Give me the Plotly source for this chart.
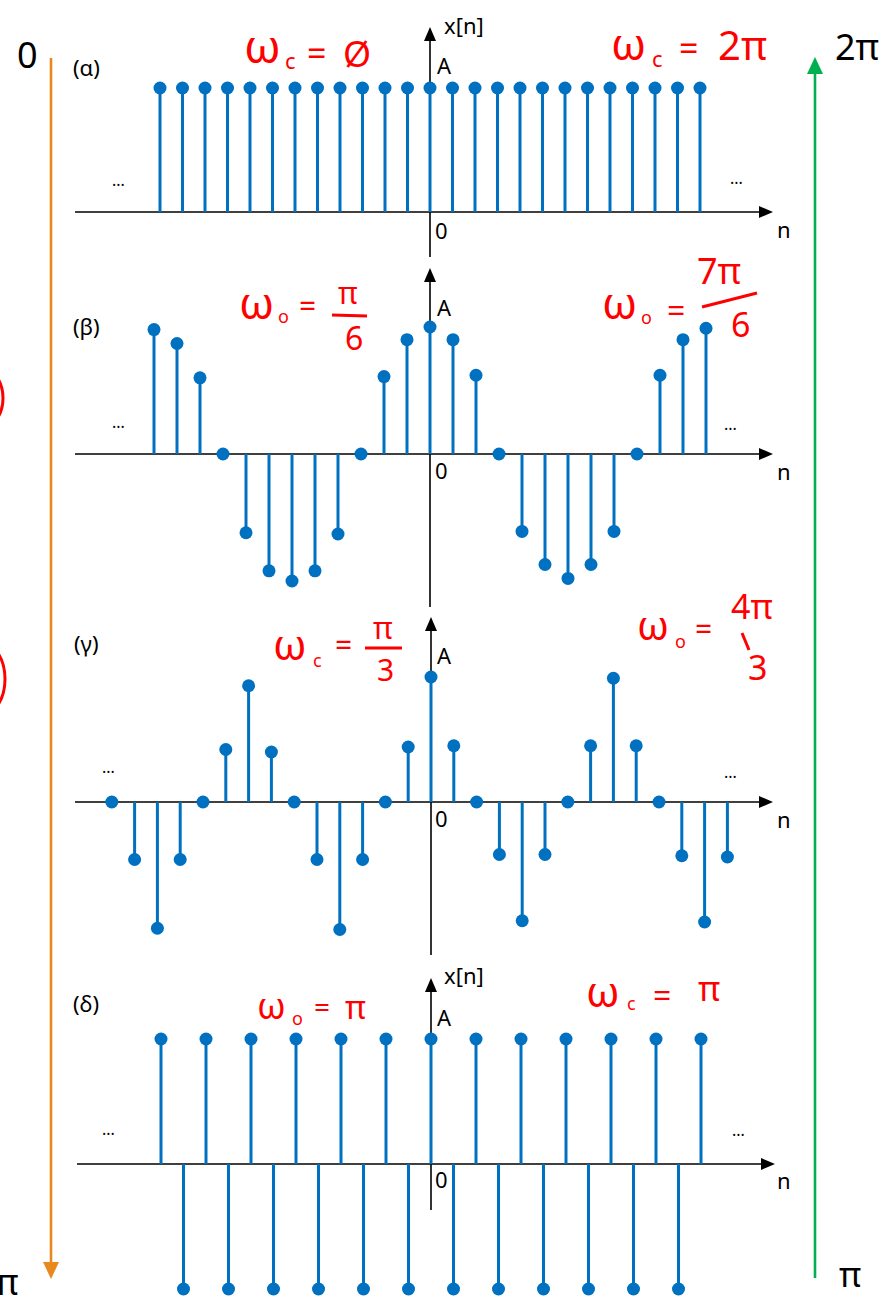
import plotly.graph_objects as go

W, H = 888, 1297

# ---------------- data (sample values in units of the amplitude A) ----------------
n_alpha = [-12, -11, -10, -9, -8, -7, -6, -5, -4, -3, -2, -1, 0,
           1, 2, 3, 4, 5, 6, 7, 8, 9, 10, 11, 12]
x_alpha = [1, 1, 1, 1, 1, 1, 1, 1, 1, 1, 1, 1, 1,
           1, 1, 1, 1, 1, 1, 1, 1, 1, 1, 1, 1]

n_beta = [-12, -11, -10, -9, -8, -7, -6, -5, -4, -3, -2, -1, 0,
          1, 2, 3, 4, 5, 6, 7, 8, 9, 10, 11, 12]
x_beta = [0.98, 0.87, 0.60, 0, -0.62, -0.92, -1.0, -0.92, -0.63, 0, 0.61, 0.90, 1.0,
          0.90, 0.62, 0, -0.61, -0.87, -0.98, -0.87, -0.61, 0, 0.62, 0.90, 0.99]

n_gamma = [-14, -13, -12, -11, -10, -9, -8, -7, -6, -5, -4, -3, -2, -1, 0,
           1, 2, 3, 4, 5, 6, 7, 8, 9, 10, 11, 12, 13]
x_gamma = [0, -0.46, -1.01, -0.46, 0, 0.42, 0.93, 0.40, 0, -0.46, -1.02, -0.46, 0, 0.44, 1.0,
           0.45, 0, -0.42, -0.95, -0.42, 0, 0.45, 0.99, 0.45, 0, -0.43, -0.96, -0.44]

n_delta = [-12, -11, -10, -9, -8, -7, -6, -5, -4, -3, -2, -1, 0,
           1, 2, 3, 4, 5, 6, 7, 8, 9, 10, 11, 12]
x_delta = [1, -1, 1, -1, 1, -1, 1, -1, 1, -1, 1, -1, 1,
           -1, 1, -1, 1, -1, 1, -1, 1, -1, 1, -1, 1]

panel_tags = ["(α)", "(β)", "(γ)", "(δ)"]
axis_labels = ["A", "0", "n", "x[n]", "..."]
side_labels = ["0", "π", "2π", "π"]

# ---------------- geometry (pixels) ----------------
STEM = "#0070C0"
panels = [
    dict(n=n_alpha, v=x_alpha, x0=430, s=22.5, y0=212, a=124, vtop=27, vbot=257, xl=75, xr=773,
         tag_y=67, A_y=65, zero_y=230, n_y=229, dl=(118, 180), dr=(736, 178), xn_y=25),
    dict(n=n_beta, v=x_beta, x0=430, s=23.0, y0=454, a=127, vtop=268, vbot=607, xl=75, xr=773,
         tag_y=326, A_y=307, zero_y=470, n_y=471, dl=(118, 422), dr=(730, 424), xn_y=None),
    dict(n=n_gamma, v=x_gamma, x0=431, s=22.8, y0=802, a=125, vtop=617, vbot=955, xl=75, xr=773,
         tag_y=643, A_y=655, zero_y=818, n_y=819, dl=(108, 767), dr=(730, 772), xn_y=None),
    dict(n=n_delta, v=x_delta, x0=431, s=22.5, y0=1164, a=125, vtop=978, vbot=1210, xl=77, xr=775,
         tag_y=1003, A_y=1017, zero_y=1179, n_y=1180, dl=(108, 1129), dr=(738, 1130), xn_y=975),
]


def PX(x):
    return x / W


def PY(y):
    return 1 - y / H


fig = go.Figure()
shapes = []
annotations = []
layout_axes = {}


def txt(text, x, y, size, color="black"):
    annotations.append(dict(text=text, x=PX(x), y=PY(y), xref="paper", yref="paper",
                            showarrow=False, xanchor="center", yanchor="middle",
                            font=dict(family="Noto Sans", size=size, color=color)))


for i, p in enumerate(panels):
    k = "" if i == 0 else str(i + 1)
    xa, ya = "x" + k, "y" + k
    layout_axes["xaxis" + k] = dict(domain=[0, 1], range=[(0 - p["x0"]) / p["s"], (W - p["x0"]) / p["s"]],
                                    visible=False, anchor=ya, fixedrange=True)
    layout_axes["yaxis" + k] = dict(domain=[0, 1], range=[(p["y0"] - H) / p["a"], p["y0"] / p["a"]],
                                    visible=False, anchor=xa, fixedrange=True)
    sx, sy = [], []
    for n, v in zip(p["n"], p["v"]):
        sx += [n, n, None]
        sy += [0, v, None]
    fig.add_trace(go.Scatter(x=sx, y=sy, mode="lines", xaxis=xa, yaxis=ya,
                             line=dict(color=STEM, width=3), hoverinfo="skip", showlegend=False))
    fig.add_trace(go.Scatter(x=p["n"], y=p["v"], mode="markers", xaxis=xa, yaxis=ya,
                             marker=dict(color=STEM, size=13, line=dict(width=0)),
                             showlegend=False, cliponaxis=False))

    # horizontal axis with arrow
    y0 = p["y0"]
    shapes.append(dict(type="line", xref="paper", yref="paper", layer="below",
                       x0=PX(p["xl"]), x1=PX(p["xr"] - 10), y0=PY(y0), y1=PY(y0),
                       line=dict(color="black", width=1.6)))
    shapes.append(dict(type="path", xref="paper", yref="paper", layer="below",
                       path=f"M {PX(p['xr'])} {PY(y0)} L {PX(p['xr'] - 14)} {PY(y0 - 6)} "
                            f"L {PX(p['xr'] - 14)} {PY(y0 + 6)} Z",
                       fillcolor="black", line=dict(width=0)))
    # vertical axis with arrow
    vx = p["x0"]
    shapes.append(dict(type="line", xref="paper", yref="paper", layer="below",
                       x0=PX(vx), x1=PX(vx), y0=PY(p["vtop"] + 10), y1=PY(p["vbot"]),
                       line=dict(color="black", width=1.6)))
    shapes.append(dict(type="path", xref="paper", yref="paper", layer="below",
                       path=f"M {PX(vx)} {PY(p['vtop'])} L {PX(vx - 6)} {PY(p['vtop'] + 14)} "
                            f"L {PX(vx + 6)} {PY(p['vtop'] + 14)} Z",
                       fillcolor="black", line=dict(width=0)))

    txt(panel_tags[i], 86, p["tag_y"], 22)
    txt(axis_labels[0], 444, p["A_y"], 22)
    txt(axis_labels[1], 441, p["zero_y"], 22)
    txt(axis_labels[2], 784, p["n_y"], 22)
    txt(axis_labels[4], p["dl"][0], p["dl"][1], 16)
    txt(axis_labels[4], p["dr"][0], p["dr"][1], 16)
    if p["xn_y"] is not None:
        txt(axis_labels[3], 464, p["xn_y"], 22)

# big side labels
txt(side_labels[0], 27, 55, 36)
txt(side_labels[1], 7, 1281, 36)
txt(side_labels[2], 857, 46, 36)
txt(side_labels[3], 850, 1274, 34)

# orange (down) and green (up) arrows
ORANGE, GREEN = "#E8891F", "#00B050"
shapes.append(dict(type="line", xref="paper", yref="paper", x0=PX(51), x1=PX(51), y0=PY(58), y1=PY(1265),
                   line=dict(color=ORANGE, width=2.6)))
shapes.append(dict(type="path", xref="paper", yref="paper",
                   path=f"M {PX(51)} {PY(1279)} L {PX(43)} {PY(1262)} L {PX(59)} {PY(1262)} Z",
                   fillcolor=ORANGE, line=dict(width=0)))
shapes.append(dict(type="line", xref="paper", yref="paper", x0=PX(815), x1=PX(815), y0=PY(1278), y1=PY(70),
                   line=dict(color=GREEN, width=2.6)))
shapes.append(dict(type="path", xref="paper", yref="paper",
                   path=f"M {PX(815)} {PY(57)} L {PX(807)} {PY(74)} L {PX(823)} {PY(74)} Z",
                   fillcolor=GREEN, line=dict(width=0)))

# red hand annotations
RED = "#FF0000"


def hw(text, x, y, size):
    txt(text, x, y, size, RED)


def red_line(x0, y0, x1, y1, w=3):
    shapes.append(dict(type="line", xref="paper", yref="paper", x0=PX(x0), y0=PY(y0), x1=PX(x1), y1=PY(y1),
                       line=dict(color=RED, width=w)))


# alpha
hw("ω", 262, 45, 46); hw("c", 290, 60, 22); hw("=", 316, 53, 34); hw("Ø", 357, 54, 36)
hw("ω", 628, 43, 44); hw("c", 657, 58, 22); hw("=", 688, 48, 34); hw("2π", 742, 44, 40)
# beta
hw("ω", 256, 302, 44); hw("o", 283, 316, 18); hw("=", 307, 306, 30)
hw("π", 348, 293, 30); red_line(332, 315, 367, 316); hw("6", 354, 337, 32)
hw("ω", 619, 302, 44); hw("o", 646, 317, 18); hw("=", 676, 309, 32)
hw("7π", 719, 270, 36); red_line(702, 307, 757, 293); hw("6", 740, 324, 34)
# gamma
hw("ω", 290, 643, 42); hw("c", 317, 660, 18); hw("=", 343, 644, 30)
hw("π", 383, 627, 30); red_line(365, 648, 402, 648); hw("3", 385, 669, 30)
hw("ω", 653, 625, 40); hw("o", 680, 641, 18); hw("=", 703, 628, 30)
hw("4π", 752, 606, 34); red_line(742, 633, 749, 650); hw("3", 757, 667, 34)
# delta
hw("ω", 271, 1005, 36); hw("o", 297, 1018, 18); hw("=", 322, 1006, 28); hw("π", 355, 1006, 32)
hw("ω", 603, 990, 42); hw("c", 631, 1003, 18); hw("=", 662, 994, 32); hw("π", 709, 988, 34)

# partial red circles at left edge
shapes.append(dict(type="circle", xref="paper", yref="paper", x0=PX(-40), x1=PX(3), y0=PY(368), y1=PY(428),
                   line=dict(color=RED, width=3)))
shapes.append(dict(type="circle", xref="paper", yref="paper", x0=PX(-50), x1=PX(5), y0=PY(640), y1=PY(718),
                   line=dict(color=RED, width=3)))

fig.update_layout(width=W, height=H, autosize=False, margin=dict(l=0, r=0, t=0, b=0, pad=0),
                  paper_bgcolor="white", plot_bgcolor="rgba(0,0,0,0)", showlegend=False,
                  shapes=shapes, annotations=annotations, hovermode=False, **layout_axes)

fig.write_html("out.html", config={"displayModeBar": False, "staticPlot": True},
               post_script="document.body.style.margin='0';document.body.style.overflow='hidden';")
